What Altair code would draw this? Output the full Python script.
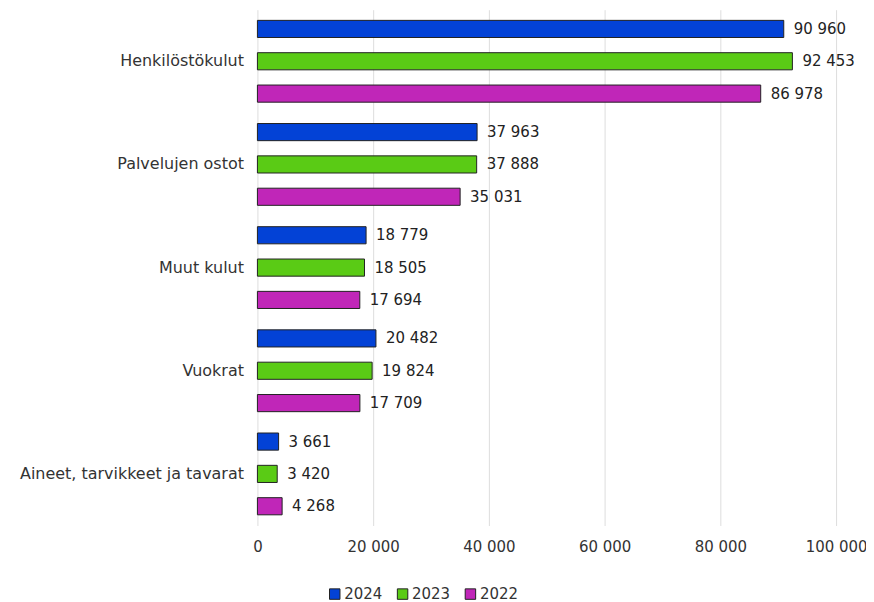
import altair as alt
import pandas as pd

categories = ["Henkilöstökulut", "Palvelujen ostot", "Muut kulut", "Vuokrat", "Aineet, tarvikkeet ja tavarat"]
years = ["2024", "2023", "2022"]
v2024 = [90960, 37963, 18779, 20482, 3661]
v2023 = [92453, 37888, 18505, 19824, 3420]
v2022 = [86978, 35031, 17694, 17709, 4268]
colors = ["#0342D6", "#5ACB15", "#C026B8"]

rows = []
for i, c in enumerate(categories):
    for y, vals in zip(years, [v2024, v2023, v2022]):
        rows.append({"category": c, "year": y, "value": vals[i]})
df = pd.DataFrame(rows)

FONT = "DejaVu Sans"

base = alt.Chart(df).encode(
    y=alt.Y("category:N", sort=categories, title=None,
            scale=alt.Scale(paddingInner=0, paddingOuter=0),
            axis=alt.Axis(domain=False, ticks=False, labelFontSize=16, labelColor="#333333",
                          labelPadding=14, labelFont=FONT, labelLimit=400)),
    yOffset=alt.YOffset("year:N", sort=years,
                        scale=alt.Scale(paddingInner=0.47, paddingOuter=0.33)),
)

bars = base.mark_bar(stroke="#222222", strokeWidth=1).encode(
    x=alt.X("value:Q", title=None,
            scale=alt.Scale(domain=[0, 100000], nice=False),
            axis=alt.Axis(values=[0, 20000, 40000, 60000, 80000, 100000], domain=False, ticks=False,
                          format=",d", labelFontSize=15, labelColor="#333333", labelPadding=14,
                          labelFlush=False, labelFont=FONT, gridColor="#dddddd", grid=True)),
    color=alt.Color("year:N", sort=years, scale=alt.Scale(domain=years, range=colors),
                    legend=alt.Legend(title=None, orient="none", legendX=70, legendY=578,
                                      direction="horizontal", symbolType="square", symbolSize=110,
                                      symbolStrokeColor="#222222", symbolStrokeWidth=1,
                                      labelFontSize=15, labelColor="#333333", labelFont=FONT,
                                      columnPadding=12, labelOffset=2)),
)

labels = base.mark_text(align="left", baseline="middle", dx=10, fontSize=15, font=FONT,
                        color="#222222").encode(
    x=alt.X("value:Q"),
    text=alt.Text("value:Q", format=",d"),
)

chart = (bars + labels).properties(
    width=580, height=517,
    autosize=alt.AutoSizeParams(type="none"),
    padding={"left": 250, "top": 1, "right": 30, "bottom": 80},
).configure(
    locale={"number": {"decimal": ",", "thousands": "\u00a0", "grouping": [3], "currency": ["", "\u00a0€"]}}
).configure_view(stroke=None)

chart.save("out.html", embed_options={"renderer": "svg", "actions": False})
